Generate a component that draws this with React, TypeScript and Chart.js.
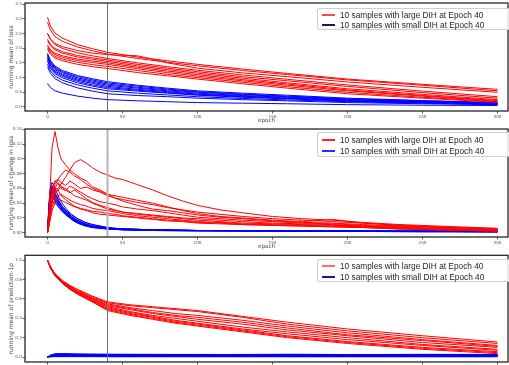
import React, { useEffect, useRef } from "react";
import { Chart, registerables } from "chart.js";

Chart.register(...registerables);

// ---------- tick labels ----------
const X_TICKS = [0, 50, 100, 150, 200, 250, 300];
const LOSS_TICKS = [0, 0.5, 1, 1.5, 2, 2.5, 3, 3.5];
const CHANGE_TICKS = [0, 0.02, 0.04, 0.06, 0.08, 0.1, 0.12, 0.14];
const PRED_TICKS = [0, 0.2, 0.4, 0.6, 0.8, 1.0];
const MARK_EPOCH = 40;

const LABEL_LARGE = "10 samples with large DIH at Epoch 40";
const LABEL_SMALL = "10 samples with small DIH at Epoch 40";

// ---------- panel 1: running mean of loss ----------
const LOSS_EPOCHS = [0, 2, 5, 10, 20, 30, 40, 60, 80, 100, 130, 160, 200, 250, 300];
const LOSS_LARGE = [
  [3.05, 2.75, 2.51, 2.34, 2.12, 1.98, 1.86, 1.7, 1.57, 1.45, 1.29, 1.14, 0.95, 0.77, 0.6],
  [2.88, 2.61, 2.39, 2.23, 2.04, 1.91, 1.8, 1.65, 1.52, 1.4, 1.24, 1.1, 0.92, 0.74, 0.55],
  [2.5, 2.31, 2.16, 2.05, 1.92, 1.83, 1.78, 1.74, 1.5, 1.32, 1.16, 1.03, 0.85, 0.67, 0.5],
  [2.5, 2.29, 2.12, 1.99, 1.84, 1.74, 1.65, 1.5, 1.37, 1.25, 1.09, 0.94, 0.75, 0.54, 0.35],
  [2.3, 2.13, 1.99, 1.88, 1.75, 1.67, 1.6, 1.45, 1.32, 1.2, 1.03, 0.89, 0.7, 0.49, 0.3],
  [2.25, 2.08, 1.94, 1.83, 1.7, 1.62, 1.55, 1.4, 1.27, 1.15, 0.98, 0.82, 0.62, 0.43, 0.25],
  [2.1, 1.95, 1.83, 1.74, 1.63, 1.56, 1.5, 1.35, 1.22, 1.1, 0.93, 0.78, 0.58, 0.39, 0.22],
  [2.05, 1.9, 1.78, 1.69, 1.58, 1.51, 1.45, 1.3, 1.17, 1.05, 0.89, 0.74, 0.55, 0.37, 0.2],
  [2.0, 1.85, 1.72, 1.63, 1.52, 1.44, 1.38, 1.24, 1.11, 1.0, 0.84, 0.69, 0.5, 0.33, 0.18],
  [1.95, 1.79, 1.66, 1.57, 1.45, 1.37, 1.31, 1.17, 1.06, 0.95, 0.79, 0.64, 0.45, 0.3, 0.16],
];
const LOSS_SMALL = [
  [1.82, 1.58, 1.39, 1.24, 1.07, 0.96, 0.86, 0.74, 0.64, 0.55, 0.47, 0.4, 0.3, 0.22, 0.15],
  [1.78, 1.54, 1.35, 1.2, 1.03, 0.92, 0.82, 0.71, 0.61, 0.52, 0.44, 0.37, 0.28, 0.21, 0.14],
  [1.75, 1.51, 1.31, 1.17, 0.99, 0.88, 0.78, 0.67, 0.58, 0.5, 0.42, 0.35, 0.26, 0.19, 0.13],
  [1.7, 1.46, 1.27, 1.12, 0.95, 0.84, 0.74, 0.64, 0.55, 0.47, 0.39, 0.33, 0.24, 0.18, 0.12],
  [1.65, 1.41, 1.22, 1.08, 0.91, 0.8, 0.7, 0.6, 0.52, 0.44, 0.37, 0.3, 0.22, 0.16, 0.11],
  [1.6, 1.37, 1.18, 1.04, 0.87, 0.75, 0.66, 0.57, 0.49, 0.42, 0.35, 0.29, 0.21, 0.15, 0.1],
  [1.55, 1.32, 1.13, 0.99, 0.82, 0.71, 0.62, 0.54, 0.47, 0.4, 0.33, 0.28, 0.2, 0.15, 0.1],
  [1.45, 1.23, 1.05, 0.91, 0.75, 0.64, 0.55, 0.47, 0.41, 0.35, 0.29, 0.24, 0.18, 0.13, 0.09],
  [1.37, 1.14, 0.96, 0.82, 0.65, 0.54, 0.45, 0.39, 0.35, 0.3, 0.25, 0.21, 0.15, 0.11, 0.08],
  [0.8, 0.66, 0.55, 0.47, 0.37, 0.3, 0.25, 0.21, 0.18, 0.15, 0.13, 0.11, 0.08, 0.06, 0.05],
];

// ---------- panel 2: running mean of change in loss ----------
const CHANGE_EPOCHS_LARGE = [0, 1, 2, 3, 5, 7, 9, 12, 15, 18, 22, 26, 30, 35, 40, 45, 50, 60, 70, 80, 90, 100, 115, 130, 150, 170, 190, 210, 235, 260, 300];
const CHANGE_LARGE = [
  [0, 0.03, 0.07, 0.115, 0.137, 0.115, 0.1, 0.092, 0.085, 0.08, 0.074, 0.07, 0.062, 0.058, 0.052, 0.047, 0.043, 0.037, 0.032, 0.03, 0.027, 0.024, 0.021, 0.019, 0.016, 0.014, 0.013, 0.011, 0.009, 0.007, 0.005],
  [0, 0.01, 0.025, 0.04, 0.055, 0.06, 0.066, 0.075, 0.085, 0.095, 0.099, 0.094, 0.088, 0.082, 0.078, 0.074, 0.072, 0.065, 0.058, 0.05, 0.043, 0.037, 0.031, 0.027, 0.022, 0.019, 0.017, 0.014, 0.011, 0.009, 0.006],
  [0, 0.015, 0.035, 0.05, 0.065, 0.072, 0.078, 0.085, 0.082, 0.077, 0.072, 0.066, 0.06, 0.056, 0.052, 0.05, 0.048, 0.044, 0.04, 0.035, 0.03, 0.026, 0.022, 0.02, 0.017, 0.015, 0.018, 0.013, 0.01, 0.008, 0.005],
  [0, 0.02, 0.04, 0.058, 0.07, 0.066, 0.06, 0.057, 0.063, 0.06, 0.055, 0.05, 0.046, 0.042, 0.04, 0.038, 0.035, 0.032, 0.03, 0.027, 0.024, 0.021, 0.019, 0.017, 0.015, 0.013, 0.012, 0.01, 0.008, 0.006, 0.004],
  [0, 0.015, 0.03, 0.045, 0.06, 0.068, 0.063, 0.058, 0.054, 0.058, 0.052, 0.046, 0.041, 0.037, 0.034, 0.031, 0.028, 0.026, 0.024, 0.022, 0.02, 0.019, 0.017, 0.015, 0.013, 0.012, 0.011, 0.009, 0.007, 0.005, 0.003],
  [0, 0.012, 0.028, 0.04, 0.052, 0.058, 0.062, 0.06, 0.055, 0.05, 0.047, 0.044, 0.04, 0.036, 0.032, 0.03, 0.028, 0.025, 0.023, 0.021, 0.019, 0.017, 0.015, 0.013, 0.012, 0.011, 0.01, 0.009, 0.007, 0.005, 0.003],
  [0, 0.01, 0.022, 0.035, 0.045, 0.05, 0.052, 0.048, 0.044, 0.041, 0.038, 0.036, 0.033, 0.031, 0.03, 0.028, 0.026, 0.023, 0.021, 0.019, 0.017, 0.015, 0.014, 0.012, 0.011, 0.01, 0.009, 0.008, 0.006, 0.004, 0.003],
  [0, 0.01, 0.02, 0.03, 0.04, 0.046, 0.044, 0.041, 0.038, 0.035, 0.033, 0.031, 0.029, 0.028, 0.026, 0.025, 0.023, 0.021, 0.019, 0.017, 0.016, 0.014, 0.013, 0.011, 0.01, 0.009, 0.008, 0.007, 0.005, 0.004, 0.002],
  [0, 0.012, 0.03, 0.048, 0.062, 0.058, 0.05, 0.045, 0.04, 0.036, 0.032, 0.03, 0.027, 0.025, 0.024, 0.023, 0.022, 0.02, 0.018, 0.016, 0.015, 0.013, 0.012, 0.011, 0.01, 0.009, 0.008, 0.007, 0.005, 0.004, 0.002],
  [0, 0.02, 0.045, 0.06, 0.07, 0.072, 0.068, 0.064, 0.07, 0.066, 0.06, 0.062, 0.058, 0.055, 0.05, 0.047, 0.045, 0.041, 0.038, 0.034, 0.031, 0.028, 0.025, 0.022, 0.019, 0.017, 0.015, 0.013, 0.01, 0.008, 0.005],
];
const CHANGE_EPOCHS_SMALL = [0, 1, 2, 3, 4, 6, 8, 10, 13, 16, 20, 25, 30, 40, 50, 70, 100, 150, 200, 250, 300];
const CHANGE_SMALL = [
  [0, 0.04, 0.062, 0.068, 0.065, 0.055, 0.046, 0.039, 0.031, 0.025, 0.019, 0.014, 0.011, 0.007, 0.005, 0.004, 0.003, 0.003, 0.003, 0.002, 0.002],
  [0, 0.035, 0.058, 0.064, 0.06, 0.05, 0.042, 0.035, 0.028, 0.022, 0.017, 0.012, 0.009, 0.006, 0.005, 0.004, 0.003, 0.003, 0.002, 0.002, 0.002],
  [0, 0.04, 0.06, 0.06, 0.055, 0.046, 0.038, 0.032, 0.025, 0.02, 0.015, 0.011, 0.008, 0.006, 0.004, 0.003, 0.003, 0.002, 0.002, 0.002, 0.002],
  [0, 0.03, 0.05, 0.057, 0.056, 0.048, 0.041, 0.034, 0.027, 0.022, 0.016, 0.012, 0.009, 0.006, 0.005, 0.004, 0.003, 0.003, 0.002, 0.002, 0.002],
  [0, 0.03, 0.048, 0.053, 0.05, 0.043, 0.036, 0.03, 0.024, 0.019, 0.014, 0.01, 0.008, 0.005, 0.004, 0.003, 0.003, 0.002, 0.002, 0.002, 0.001],
  [0, 0.028, 0.045, 0.05, 0.048, 0.042, 0.037, 0.032, 0.026, 0.021, 0.016, 0.012, 0.009, 0.006, 0.005, 0.004, 0.003, 0.003, 0.002, 0.002, 0.002],
  [0, 0.025, 0.04, 0.047, 0.046, 0.04, 0.034, 0.029, 0.023, 0.018, 0.013, 0.01, 0.007, 0.005, 0.004, 0.003, 0.003, 0.002, 0.002, 0.002, 0.001],
  [0, 0.03, 0.052, 0.062, 0.058, 0.047, 0.038, 0.031, 0.024, 0.018, 0.013, 0.009, 0.007, 0.005, 0.004, 0.003, 0.002, 0.002, 0.002, 0.001, 0.001],
  [0, 0.022, 0.036, 0.042, 0.042, 0.038, 0.033, 0.028, 0.023, 0.019, 0.015, 0.011, 0.008, 0.006, 0.005, 0.004, 0.003, 0.003, 0.002, 0.002, 0.002],
  [0, 0.025, 0.045, 0.055, 0.054, 0.047, 0.04, 0.035, 0.029, 0.024, 0.019, 0.014, 0.011, 0.007, 0.005, 0.004, 0.003, 0.003, 0.002, 0.002, 0.002],
];

// ---------- panel 3: running mean of prediction ----------
const PRED_EPOCHS = [0, 2, 5, 10, 15, 20, 30, 40, 55, 70, 85, 100, 130, 160, 200, 250, 300];
const PRED_LARGE = [
  [1.0, 0.93, 0.86, 0.79, 0.74, 0.7, 0.63, 0.57, 0.54, 0.52, 0.5, 0.48, 0.42, 0.36, 0.29, 0.22, 0.155],
  [1.0, 0.93, 0.86, 0.78, 0.73, 0.69, 0.62, 0.56, 0.53, 0.51, 0.49, 0.47, 0.41, 0.34, 0.27, 0.2, 0.14],
  [1.0, 0.93, 0.86, 0.78, 0.73, 0.68, 0.61, 0.55, 0.51, 0.48, 0.45, 0.43, 0.38, 0.32, 0.25, 0.18, 0.12],
  [1.0, 0.93, 0.85, 0.78, 0.72, 0.68, 0.6, 0.54, 0.5, 0.46, 0.43, 0.41, 0.36, 0.3, 0.23, 0.17, 0.11],
  [1.0, 0.93, 0.85, 0.77, 0.72, 0.67, 0.6, 0.53, 0.49, 0.45, 0.42, 0.39, 0.34, 0.28, 0.22, 0.15, 0.1],
  [1.0, 0.92, 0.85, 0.77, 0.71, 0.67, 0.59, 0.52, 0.47, 0.43, 0.4, 0.37, 0.31, 0.26, 0.2, 0.13, 0.08],
  [1.0, 0.92, 0.85, 0.77, 0.71, 0.66, 0.58, 0.51, 0.46, 0.42, 0.38, 0.35, 0.29, 0.24, 0.18, 0.12, 0.07],
  [1.0, 0.92, 0.84, 0.76, 0.7, 0.66, 0.58, 0.5, 0.45, 0.41, 0.37, 0.34, 0.28, 0.22, 0.16, 0.1, 0.055],
  [1.0, 0.92, 0.84, 0.76, 0.7, 0.65, 0.57, 0.49, 0.44, 0.4, 0.36, 0.33, 0.27, 0.21, 0.15, 0.09, 0.045],
  [1.0, 0.92, 0.84, 0.76, 0.7, 0.65, 0.57, 0.48, 0.43, 0.39, 0.35, 0.32, 0.26, 0.2, 0.14, 0.08, 0.035],
];
const PRED_SMALL = [
  [0, 0.016, 0.026, 0.028, 0.026, 0.025, 0.024, 0.024, 0.023, 0.023, 0.022, 0.022, 0.022, 0.021, 0.021, 0.021, 0.02],
  [0, 0.018, 0.03, 0.032, 0.03, 0.029, 0.028, 0.027, 0.027, 0.026, 0.026, 0.025, 0.027, 0.026, 0.025, 0.028, 0.027],
  [0, 0.008, 0.014, 0.016, 0.015, 0.015, 0.014, 0.014, 0.013, 0.013, 0.013, 0.012, 0.012, 0.012, 0.011, 0.011, 0.011],
  [0, 0.012, 0.02, 0.022, 0.021, 0.021, 0.02, 0.019, 0.019, 0.018, 0.018, 0.018, 0.02, 0.019, 0.018, 0.018, 0.019],
  [0, 0.004, 0.007, 0.008, 0.008, 0.007, 0.007, 0.007, 0.006, 0.006, 0.006, 0.006, 0.006, 0.005, 0.005, 0.005, 0.005],
  [0, 0.015, 0.024, 0.026, 0.025, 0.024, 0.023, 0.022, 0.022, 0.021, 0.021, 0.021, 0.02, 0.02, 0.02, 0.019, 0.019],
  [0, 0.002, 0.004, 0.004, 0.004, 0.004, 0.004, 0.003, 0.003, 0.003, 0.003, 0.003, 0.003, 0.003, 0.003, 0.003, 0.003],
  [0, 0.011, 0.018, 0.02, 0.02, 0.019, 0.019, 0.018, 0.018, 0.017, 0.017, 0.016, 0.016, 0.016, 0.015, 0.015, 0.015],
  [0, 0.007, 0.011, 0.012, 0.012, 0.011, 0.011, 0.011, 0.01, 0.01, 0.01, 0.01, 0.009, 0.009, 0.009, 0.009, 0.009],
  [0, 0.02, 0.034, 0.036, 0.034, 0.032, 0.03, 0.029, 0.028, 0.028, 0.027, 0.027, 0.026, 0.029, 0.026, 0.025, 0.025],
];

type Panel = {
  top: number;
  height: number;
  padTop: number;
  xAxisHeight: number;
  showXTitle: boolean;
  yTitle: string;
  yTicks: number[];
  yDecimals: number;
  yMin: number;
  yMax: number;
  largeEpochs: number[];
  large: number[][];
  smallEpochs: number[];
  small: number[][];
  markColor: string;
  markWidth: number;
  legendTop: number;
  legendHeight: number;
  legendRows: number[];
  legendRed: string;
  legendBlue: string;
};

const PANELS: Panel[] = [
  {
    top: 0, height: 126, padTop: 3, xAxisHeight: 15, showXTitle: true,
    yTitle: "running mean of loss", yTicks: LOSS_TICKS, yDecimals: 1, yMin: -0.136, yMax: 3.534,
    largeEpochs: LOSS_EPOCHS, large: LOSS_LARGE, smallEpochs: LOSS_EPOCHS, small: LOSS_SMALL,
    markColor: "#6e6e6e", markWidth: 1,
    legendTop: 8, legendHeight: 22, legendRows: [6, 16], legendRed: "#ff4a4a", legendBlue: "#14147a",
  },
  {
    top: 126, height: 126, padTop: 3, xAxisHeight: 15, showXTitle: true,
    yTitle: "running mean of change in loss", yTicks: CHANGE_TICKS, yDecimals: 2, yMin: -0.0058, yMax: 0.1404,
    largeEpochs: CHANGE_EPOCHS_LARGE, large: CHANGE_LARGE, smallEpochs: CHANGE_EPOCHS_SMALL, small: CHANGE_SMALL,
    markColor: "#b4b4b4", markWidth: 2,
    legendTop: 132, legendHeight: 25, legendRows: [7, 18], legendRed: "#ff2020", legendBlue: "#2a2aff",
  },
  {
    top: 252, height: 113, padTop: 3.3, xAxisHeight: 1.7, showXTitle: false,
    yTitle: "running mean of prediction-1p", yTicks: PRED_TICKS, yDecimals: 1, yMin: -0.051, yMax: 1.051,
    largeEpochs: PRED_EPOCHS, large: PRED_LARGE, smallEpochs: PRED_EPOCHS, small: PRED_SMALL,
    markColor: "#6e6e6e", markWidth: 1,
    legendTop: 259, legendHeight: 23, legendRows: [6, 17], legendRed: "#ff6a6a", legendBlue: "#1a1a90",
  },
];

function toPoints(epochs: number[], values: number[]) {
  return epochs.map((e, i) => ({ x: e, y: values[i] }));
}

const framePlugin = {
  id: "frameAndMark",
  afterDatasetsDraw(chart: any, _args: any, opts: any) {
    const { ctx, chartArea, scales } = chart;
    const x = scales.x.getPixelForValue(MARK_EPOCH);
    ctx.save();
    ctx.strokeStyle = opts.markColor;
    ctx.lineWidth = opts.markWidth;
    ctx.beginPath();
    ctx.moveTo(x, chartArea.top);
    ctx.lineTo(x, chartArea.bottom);
    ctx.stroke();
    ctx.strokeStyle = "#262626";
    ctx.lineWidth = 1.3;
    ctx.strokeRect(chartArea.left, chartArea.top, chartArea.right - chartArea.left, chartArea.bottom - chartArea.top);
    ctx.restore();
  },
};

function PanelChart({ p }: { p: Panel }) {
  const ref = useRef<HTMLCanvasElement | null>(null);
  useEffect(() => {
    if (!ref.current) return;
    const datasets: any[] = [];
    p.large.forEach((vals) =>
      datasets.push({ data: toPoints(p.largeEpochs, vals), borderColor: "#ff0000", borderWidth: 1, pointRadius: 0, fill: false, tension: 0 })
    );
    p.small.forEach((vals) =>
      datasets.push({ data: toPoints(p.smallEpochs, vals), borderColor: "#0000ff", borderWidth: 1, pointRadius: 0, fill: false, tension: 0 })
    );
    const chart = new Chart(ref.current, {
      type: "line",
      data: { datasets },
      plugins: [framePlugin],
      options: {
        animation: false,
        responsive: false,
        maintainAspectRatio: false,
        devicePixelRatio: 1,
        layout: { padding: { top: p.padTop, left: 0, right: 1, bottom: 0 } },
        plugins: {
          legend: { display: false },
          tooltip: { enabled: false },
          frameAndMark: { markColor: p.markColor, markWidth: p.markWidth },
        } as any,
        scales: {
          x: {
            type: "linear",
            min: -15,
            max: 307,
            afterFit: (s: any) => { s.height = p.xAxisHeight; },
            afterBuildTicks: (s: any) => { s.ticks = X_TICKS.map((v) => ({ value: v })); },
            grid: { display: true, drawOnChartArea: false, drawTicks: true, tickLength: 2.5, color: "#333", lineWidth: 0.8 },
            border: { display: false },
            ticks: {
              font: { family: "DejaVu Sans", size: 4.2 },
              color: "#555",
              padding: 0.5,
              maxRotation: 0,
              autoSkip: false,
              callback: (v: any) => String(v),
            },
            title: {
              display: p.showXTitle,
              text: "epoch",
              font: { family: "DejaVu Sans", size: 5.6 },
              color: "#444",
              padding: { top: 0, bottom: 2 },
            },
          },
          y: {
            type: "linear",
            min: p.yMin,
            max: p.yMax,
            afterFit: (s: any) => { s.width = 25; },
            afterBuildTicks: (s: any) => { s.ticks = p.yTicks.map((v) => ({ value: v })); },
            grid: { display: true, drawOnChartArea: false, drawTicks: true, tickLength: 2.5, color: "#333", lineWidth: 0.8 },
            border: { display: false },
            ticks: {
              font: { family: "DejaVu Sans", size: 4.2 },
              color: "#555",
              padding: 0.5,
              autoSkip: false,
              callback: (v: any) => Number(v).toFixed(p.yDecimals),
            },
            title: {
              display: true,
              text: p.yTitle,
              font: { family: "DejaVu Sans", size: 6 },
              color: "#444",
              padding: { top: 8, bottom: 0 },
            },
          },
        },
      } as any,
    });
    return () => chart.destroy();
  }, [p]);

  return (
    <>
      <canvas
        ref={ref}
        width={509}
        height={p.height}
        style={{ position: "absolute", left: 0, top: p.top, width: 509, height: p.height, display: "block" }}
      />
      <div
        style={{
          position: "absolute",
          left: 317,
          top: p.legendTop,
          width: 200,
          height: p.legendHeight,
          boxSizing: "border-box",
          border: "1px solid #cfcfcf",
          borderRadius: 2,
          background: "rgba(255,255,255,0.85)",
          fontFamily: "'Liberation Sans', Arial, sans-serif",
          fontSize: 8.3,
          color: "#262626",
        }}
      >
        {[LABEL_LARGE, LABEL_SMALL].map((label, i) => (
          <React.Fragment key={label}>
            <div
              style={{
                position: "absolute",
                left: 4,
                top: p.legendRows[i] - 1,
                width: 13,
                height: 2,
                background: i === 0 ? p.legendRed : p.legendBlue,
              }}
            />
            <div
              style={{
                position: "absolute",
                left: 22,
                top: p.legendRows[i] - 5,
                lineHeight: "10px",
                whiteSpace: "nowrap",
              }}
            >
              {label}
            </div>
          </React.Fragment>
        ))}
      </div>
    </>
  );
}

export default function App() {
  return (
    <div
      style={{
        position: "fixed",
        left: 0,
        top: 0,
        width: 509,
        height: 365,
        overflow: "hidden",
        background: "#ffffff",
      }}
    >
      {PANELS.map((p, i) => (
        <PanelChart key={i} p={p} />
      ))}
    </div>
  );
}
